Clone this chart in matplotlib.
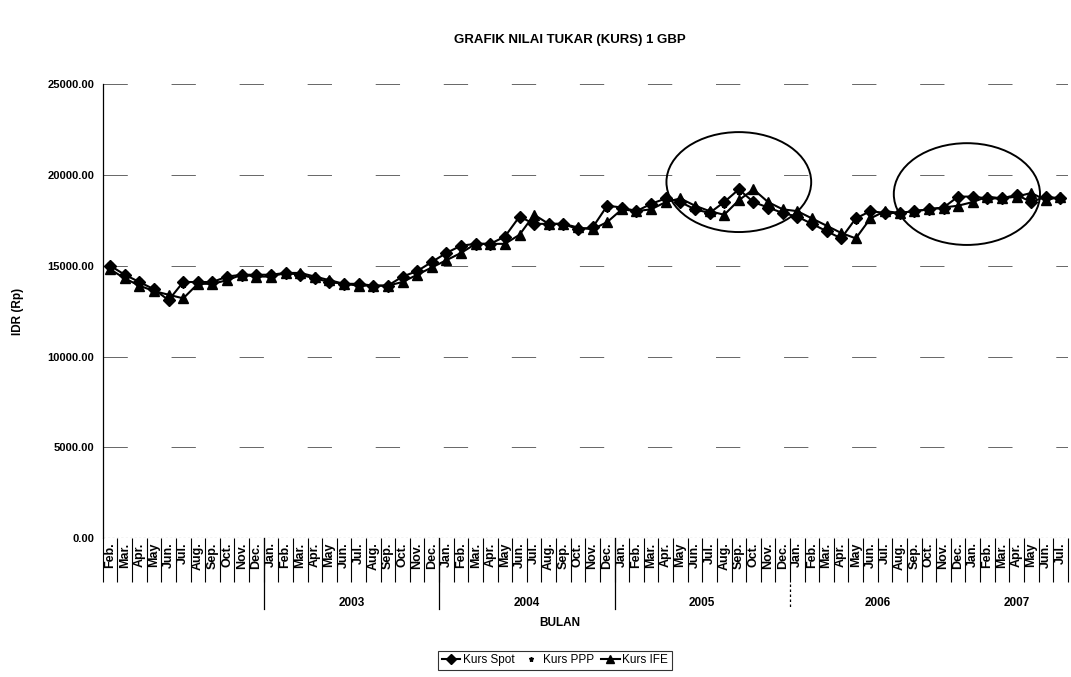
import matplotlib
matplotlib.use("Agg")
import matplotlib.pyplot as plt
from matplotlib.patches import Ellipse
from matplotlib.transforms import blended_transform_factory

plt.rcParams["font.family"] = ["Liberation Sans", "DejaVu Sans"]

years = ["2002", "2003", "2004", "2005", "2006", "2007"]
year_counts = [11, 12, 12, 12, 12, 7]
year_labels = ["", "2003", "2004", "2005", "2006", "2007"]

months = (
    ["Feb.", "Mar.", "Apr.", "May", "Jun.", "Jul.", "Aug.", "Sep.", "Oct.", "Nov.", "Dec."]
    + ["Jan.", "Feb.", "Mar.", "Apr.", "May", "Jun.", "Jul.", "Aug.", "Sep.", "Oct.", "Nov.", "Dec."] * 4
    + ["Jan.", "Feb.", "Mar.", "Apr.", "May", "Jun.", "Jul."]
)

kurs_spot = [
    15000, 14500, 14100, 13700, 13100, 14100, 14100, 14100, 14400, 14500, 14500,
    14500, 14600, 14500, 14300, 14100, 14000, 14000, 13900, 13900, 14400, 14700, 15200,
    15700, 16100, 16200, 16200, 16600, 17700, 17300, 17300, 17300, 17000, 17100, 18300,
    18200, 18000, 18400, 18700, 18500, 18100, 17900, 18500, 19200, 18500, 18200, 17900,
    17700, 17300, 16900, 16500, 17600, 18000, 17900, 17900, 18000, 18100, 18200, 18800,
    18800, 18700, 18700, 18900, 18500, 18800, 18700,
]

kurs_ppp = [
    15100, 14600, 14200, 13800, 13200, 14000, 14100, 14200, 14400, 14600, 14500,
    14600, 14600, 14500, 14300, 14100, 14000, 14000, 13900, 13900, 14300, 14800, 15300,
    15800, 16100, 16300, 16200, 16500, 17600, 17400, 17300, 17300, 17000, 17100, 18200,
    18300, 18000, 18500, 18700, 18600, 18100, 17900, 18400, 19100, 18600, 18200, 17900,
    17700, 17300, 17000, 16600, 17500, 18000, 17900, 17900, 18000, 18100, 18200, 18700,
    18800, 18700, 18700, 18900, 18600, 18800, 18700,
]

kurs_ife = [
    14800, 14300, 13900, 13600, 13400, 13200, 14000, 14000, 14200, 14500, 14400,
    14400, 14600, 14600, 14400, 14200, 14000, 13900, 13900, 13900, 14100, 14500, 14900,
    15300, 15700, 16200, 16200, 16200, 16700, 17800, 17300, 17300, 17100, 17000, 17400,
    18100, 18000, 18100, 18500, 18700, 18300, 18000, 17800, 18600, 19200, 18500, 18100,
    18000, 17600, 17200, 16800, 16500, 17600, 18000, 17900, 18000, 18100, 18200, 18300,
    18500, 18800, 18700, 18800, 19000, 18600, 18800,
]

x = list(range(len(months)))

fig = plt.figure(figsize=(10.71, 6.77), dpi=100)
ax = fig.add_axes([0.096, 0.205, 0.901, 0.671])

ax.plot(x, kurs_spot, color="black", lw=1.5, marker="D", ms=6.5, label="Kurs Spot", zorder=3)
ax.plot(x, kurs_ppp, color="black", lw=0, marker="*", ms=4.5, label="Kurs PPP", zorder=4)
ax.plot(x, kurs_ife, color="black", lw=1.5, marker="^", ms=7.5, label="Kurs IFE", zorder=3)

# circled regions
ax.add_patch(Ellipse((43.0, 19600), 9.9, 5500, fill=False, ec="black", lw=1.4, zorder=5))
ax.add_patch(Ellipse((58.6, 18940), 10.0, 5600, fill=False, ec="black", lw=1.4, zorder=5))

ax.set_xlim(-0.5, len(months) - 0.5)
ax.set_ylim(0, 25000)
ax.set_yticks([0, 5000, 10000, 15000, 20000, 25000])
ax.set_yticklabels([f"{v:.2f}" for v in [0, 5000, 10000, 15000, 20000, 25000]],
                   fontsize=8, fontweight="bold")
ax.tick_params(axis="y", length=0, pad=6)

for v in [5000, 10000, 15000, 20000, 25000]:
    ax.axhline(v, color="#666666", lw=0.7, ls=(0, (25, 45)), zorder=1)
ax.axhline(0, color="#444444", lw=0.8, ls=(0, (2, 2)), zorder=1)

for s in ["top", "right", "bottom"]:
    ax.spines[s].set_visible(False)
ax.spines["left"].set_linewidth(0.9)

ax.set_xticks(x)
ax.set_xticklabels(months, rotation=90, fontsize=9, fontweight="bold",
                   family=["Liberation Sans Narrow", "Liberation Sans"])
ax.tick_params(axis="x", length=0, pad=3)
ax.set_xticks([i - 0.5 for i in range(len(months) + 1)], minor=True)
ax.tick_params(axis="x", which="minor", length=32, width=0.8, direction="out")

trans = blended_transform_factory(ax.transData, ax.transAxes)
start = 0
for lab, n in zip(year_labels, year_counts):
    if lab:
        ax.text(start + n / 2 - 0.5, -0.143, lab, transform=trans, ha="center", va="center",
                fontsize=8.5, fontweight="bold")
    start += n
bounds = [11, 23, 35]
for b in bounds:
    ax.plot([b - 0.5, b - 0.5], [0, -0.155], transform=trans, color="black", lw=0.9, clip_on=False)
ax.plot([46.5, 46.5], [-0.1, -0.155], transform=trans, color="black", lw=0.9, ls=(0, (2, 2)), clip_on=False)

fig.text(0.532, 0.941, "GRAFIK NILAI TUKAR (KURS) 1 GBP", ha="center", va="center",
         fontsize=9.5, fontweight="bold")
fig.text(0.017, 0.54, "IDR (Rp)", rotation=90, ha="center", va="center",
         fontsize=8.5, fontweight="bold")
fig.text(0.523, 0.08, "BULAN", ha="center", va="center", fontsize=8.5, fontweight="bold")

leg = fig.legend(loc="center", bbox_to_anchor=(0.518, 0.025), ncol=3, frameon=True,
                 fontsize=8.5, handlelength=1.6, handletextpad=0.2, columnspacing=0.6,
                 borderpad=0.3, fancybox=False, edgecolor="black", markerscale=0.8)
leg.get_frame().set_linewidth(0.8)

fig.savefig("out.png", dpi=100)
